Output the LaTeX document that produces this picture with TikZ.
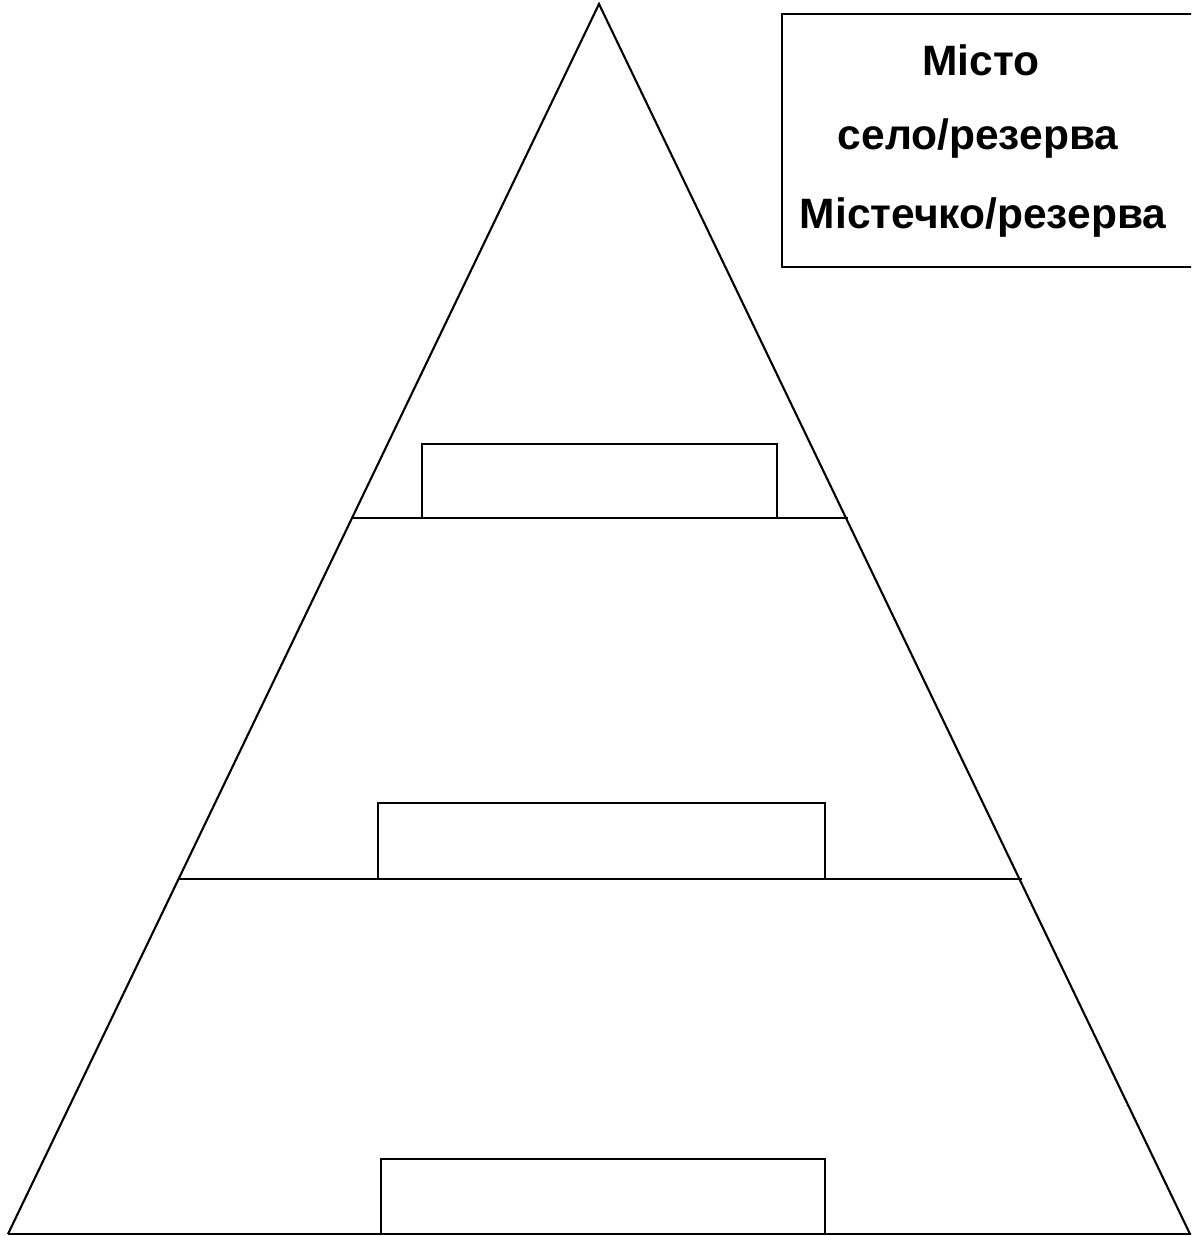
\documentclass[tikz,border=0pt]{standalone}
\usepackage{fontspec}
\setmainfont{Liberation Sans}
\begin{document}
\begin{tikzpicture}[x=1pt,y=-1pt,
  edge/.style={line width=2.1pt, line join=miter},
  lbl/.style={font=\fontsize{42.5}{50}\selectfont\bfseries, anchor=center}]
\useasboundingbox (0,0) rectangle (1191,1236);
\clip (0,0) rectangle (1191,1236);
% pyramid
\coordinate (apex) at (599,4);
\coordinate (bl) at (8,1234);
\coordinate (br) at (1190,1234);
\draw[edge] (bl) -- (apex) -- (br);
\draw[edge] (bl) -- (1195,1234);
% tier lines
\coordinate (l1a) at (353,518); \coordinate (l1b) at (848,518);
\coordinate (l2a) at (179,879); \coordinate (l2b) at (1022,879);
\draw[edge] (l1a) -- (l1b);
\draw[edge] (l2a) -- (l2b);
% slots
\draw[edge] (422,518) rectangle (777,444);
\draw[edge] (378,879) rectangle (825,803);
\draw[edge] (381,1234) rectangle (825,1159);
% legend box
\draw[edge] (1200,14) -- (782,14) -- (782,267) -- (1200,267);
\node[lbl] (t1) at (981,60) {Місто};
\node[lbl] (t2) at (978,139) {село/резерва};
\node[lbl] (t3) at (983,218) {Містечко/резерва};
\end{tikzpicture}
\end{document}
